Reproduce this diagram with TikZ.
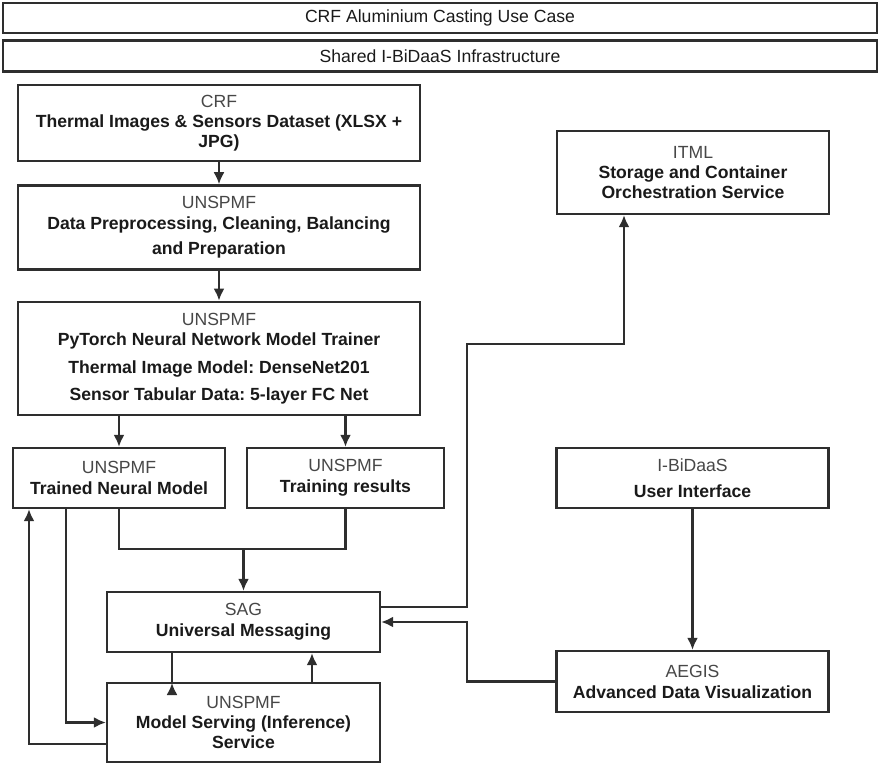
\documentclass[tikz,border=0pt]{standalone}
\usepackage{fontspec}
\setmainfont{Liberation Sans}
\usetikzlibrary{arrows.meta,positioning,calc}
\definecolor{edge}{HTML}{2E2E2E}
\definecolor{orgtext}{HTML}{474747}
\definecolor{maintext}{HTML}{1A1A1A}
\newcommand{\orgname}[1]{{\color{orgtext}#1}}
\frenchspacing

\begin{document}
\begin{tikzpicture}[
  x=0.5pt, y=-0.5pt,
  every node/.style={font=\fontsize{8.8}{10}\selectfont, text=maintext},
  box/.style={rectangle, draw=edge, line width=1.2pt, align=center, inner sep=2pt, fill=white},
  hdr/.style={box, minimum width=437pt, minimum height=15pt},
  link/.style={draw=edge, line width=1.05pt},
  arr/.style={link, -{Latex[length=6pt,width=5.5pt]}}
]
\useasboundingbox (0,0) rectangle (878,765);

% ---- Headers ----
\node[hdr] (usecase) at (440,18) {CRF Aluminium Casting Use Case};
\node[hdr, below=2.5pt of usecase, minimum height=15.5pt] (infra) {Shared I-BiDaaS Infrastructure};

% ---- Left column: data and training ----
\node[box, minimum width=201pt, minimum height=38pt] (crf) at (219,123)
  {\orgname{CRF}\\\textbf{Thermal Images \& Sensors Dataset (XLSX +}\\\textbf{JPG)}};
\node[box, minimum width=201pt, minimum height=42pt, below=11pt of crf] (prep)
  {\orgname{UNSPMF}\\[0.5pt]\textbf{Data Preprocessing, Cleaning, Balancing}\\[2.5pt]\textbf{and Preparation}};
\node[box, minimum width=201pt, minimum height=56.5pt, below=15pt of prep] (train)
  {\orgname{UNSPMF}\\\textbf{PyTorch Neural Network Model Trainer}\\[4pt]\textbf{Thermal Image Model: DenseNet201}\\[3.5pt]\textbf{Sensor Tabular Data: 5-layer FC Net}};
\draw[arr] (crf) -- (prep);
\draw[arr] (prep) -- (train);

% ---- Training outputs ----
\node[box, minimum width=106pt, minimum height=30pt] (model) at (119,478)
  {\orgname{UNSPMF}\\[0.5pt]\textbf{Trained Neural Model}};
\node[box, minimum width=98.5pt, minimum height=30pt] (results) at (345.5,478)
  {\orgname{UNSPMF}\\[0.5pt]\textbf{Training results}};
\draw[arr] (train.south -| model) -- (model);
\draw[arr] (train.south -| results) -- (results);

% ---- Messaging and serving ----
\node[box, minimum width=136.5pt, minimum height=30pt] (sag) at (243.5,622)
  {\orgname{SAG}\\[0.5pt]\textbf{Universal Messaging}};
\node[box, minimum width=136.5pt, minimum height=39.5pt] (serve) at (243.5,722.5)
  {\orgname{UNSPMF}\\\textbf{Model Serving (Inference)}\\\textbf{Service}};

\coordinate (join) at (243.5,549);
\draw[link] (model.south) |- (join) -| (results.south);
\draw[arr] (join) -- (sag.north);

\coordinate (sv1) at (172,683);
\coordinate (sv2) at (312,683);
\draw[link] (sag.south -| sv1) -- (sv1);
\draw[arr] ($(sv1)+(0,12)$) -- (sv1);
\draw[arr] (sv2) -- (sag.south -| sv2);

\draw[arr] (model.south -| 66,0) |- (serve.west);
\draw[arr] (serve.west |- 0,744) -| (model.south -| 29,0);

% ---- Right column ----
\node[box, minimum width=136pt, minimum height=41.5pt] (itml) at (693,172.5)
  {\orgname{ITML}\\\textbf{Storage and Container}\\\textbf{Orchestration Service}};
\node[box, minimum width=136pt, minimum height=30pt] (ui) at (692.5,478)
  {\orgname{I-BiDaaS}\\[3pt]\textbf{User Interface}};
\node[box, minimum width=136pt, minimum height=30.5pt] (aegis) at (692.5,681.5)
  {\orgname{AEGIS}\\[0.5pt]\textbf{Advanced Data Visualization}};

\coordinate (bendA) at (467,344);
\coordinate (bendB) at (467,622);
\draw[arr] (sag.east |- 0,607) -| (bendA) -| (itml.south -| 624,0);
\draw[arr] (ui) -- (aegis);
\draw[arr] (aegis.west) -| (bendB) -- (sag.east);

\end{tikzpicture}
\end{document}
